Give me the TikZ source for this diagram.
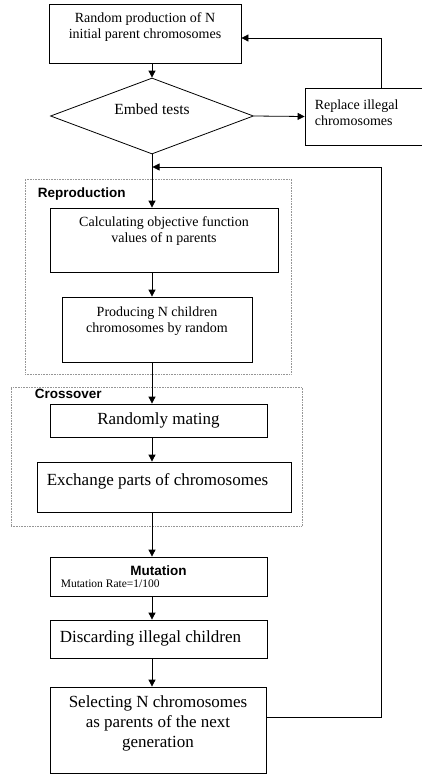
\documentclass[tikz,border=0pt]{standalone}
\usepackage{fontspec}
\setmainfont{Liberation Serif}
\newfontfamily\arialfont{Liberation Sans}
\usetikzlibrary{shapes.geometric, arrows.meta}
\definecolor{colLine}  {RGB}{  0,   0,   0}
\definecolor{colFrame} {RGB}{150, 150, 150}
\tikzset{
  stepbox/.style={
    rectangle, draw=colLine, line width=0.8pt, fill=white,
    inner sep=0pt
  },
  testnode/.style={
    diamond, aspect=2.67, draw=colLine, line width=0.8pt, fill=white,
    minimum width=203pt, minimum height=76pt, inner sep=0pt,
    font=\fontsize{15.5}{18}\selectfont, text depth=13.6pt
  },
  boxtxt/.style={
    font=\fontsize{14}{16}\selectfont, align=center,
    inner sep=0pt, anchor=north
  },
  bigtxt/.style={
    font=\fontsize{17}{20}\selectfont, align=center,
    inner sep=0pt, anchor=north
  },
  ratetxt/.style={
    font=\fontsize{11.5}{13}\selectfont,
    inner sep=0pt, anchor=north west
  },
  grouplbl/.style={
    font=\arialfont\bfseries\fontsize{13.5}{16}\selectfont,
    inner sep=0pt, anchor=north west
  },
  groupframe/.style={
    rectangle, draw=colFrame, densely dotted, line width=0.6pt,
    inner sep=0pt
  },
  flowarrow/.style={
    -{Triangle[length=7pt,width=7pt]}, line width=0.8pt, color=colLine
  },
}
\begin{document}
\begin{tikzpicture}[x=1pt, y=-1pt]
\useasboundingbox (0,0) rectangle (422,774);

%% ══════════════════════════════════════════════════════════════
%%  GROUP FRAMES  (dotted)
%% ══════════════════════════════════════════════════════════════
\node[groupframe, minimum width=266pt, minimum height=195pt,
      label={[grouplbl, xshift=13pt, yshift=-9pt]north west:Reproduction}]
  (repro) at (158,276.5) {};
\node[groupframe, minimum width=291pt, minimum height=139pt,
      label={[grouplbl, xshift=24pt, yshift=-2.5pt]north west:Crossover}]
  (cross) at (156.5,456.5) {};

%% ══════════════════════════════════════════════════════════════
%%  INITIALISATION
%% ══════════════════════════════════════════════════════════════
\node[stepbox, minimum width=192pt, minimum height=59pt,
      label={[boxtxt, yshift=-8.5pt]north:Random production of N\\initial parent chromosomes}]
  (init) at (145,33.5) {};

\node[testnode] (dia) at (152,116) {Embed tests};

\node[stepbox, minimum width=135pt, minimum height=57pt,
      label={[boxtxt, align=left, anchor=north west, xshift=10pt, yshift=-11.5pt]north west:Replace illegal\\chromosomes}]
  (repl) at (372.5,116.5) {};

%% ══════════════════════════════════════════════════════════════
%%  REPRODUCTION
%% ══════════════════════════════════════════════════════════════
\node[stepbox, minimum width=228pt, minimum height=64pt,
      label={[boxtxt, yshift=-8.5pt]north:Calculating objective function\\values of n parents}]
  (calc) at (164,240) {};

\node[stepbox, minimum width=190pt, minimum height=65pt,
      label={[boxtxt, yshift=-9.5pt]north:Producing N children\\chromosomes by random}]
  (prod) at (157,329.5) {};

%% ══════════════════════════════════════════════════════════════
%%  CROSSOVER
%% ══════════════════════════════════════════════════════════════
\node[stepbox, minimum width=217pt, minimum height=33pt,
      font=\fontsize{17}{20}\selectfont]
  (rand) at (158.5,420.5) {Randomly mating};

\node[stepbox, minimum width=254pt, minimum height=50pt,
      label={[bigtxt, xshift=-6.5pt, yshift=-12pt]north:Exchange parts of chromosomes}]
  (exch) at (164,487) {};

%% ══════════════════════════════════════════════════════════════
%%  MUTATION AND SELECTION
%% ══════════════════════════════════════════════════════════════
\node[stepbox, minimum width=217pt, minimum height=39pt,
      label={[grouplbl, anchor=north, yshift=-9pt]north:Mutation},
      label={[ratetxt, xshift=11pt, yshift=-23.5pt]north west:{Mutation Rate=1/100}}]
  (mut) at (158.5,576.5) {};

\node[stepbox, minimum width=217pt, minimum height=38pt,
      label={[bigtxt, anchor=base west, xshift=10pt, yshift=-3.5pt]west:Discarding illegal children}]
  (disc) at (158.5,639) {};

\node[stepbox, minimum width=216pt, minimum height=86pt,
      label={[bigtxt, yshift=-9pt]north:Selecting N chromosomes\\as parents of the next\\generation}]
  (sel) at (158,730) {};

%% ── bends of the return lines ─────────────────────────────────
\coordinate (ret1) at (381,38);
\coordinate (ret2) at (381,717);
\coordinate (join) at (152.5,167);

%% ══════════════════════════════════════════════════════════════
%%  ARROWS
%% ══════════════════════════════════════════════════════════════
\draw[flowarrow] (init.south -| dia.north) -- (dia.north);
\draw[flowarrow] (dia.east) -- (repl.west);
\draw[flowarrow] (repl.north -| ret1) -- (ret1) -- (init.east |- ret1);
\draw[flowarrow] (dia.south) -- (calc.north -| dia.south);
\draw[flowarrow] (calc.south -| dia.south) -- (prod.north -| dia.south);
\draw[flowarrow] (prod.south -| dia.south) -- (rand.north -| dia.south);
\draw[flowarrow] (rand.south -| dia.south) -- (exch.north -| dia.south);
\draw[flowarrow] (exch.south -| dia.south) -- (mut.north -| dia.south);
\draw[flowarrow] (mut.south -| dia.south) -- (disc.north -| dia.south);
\draw[flowarrow] (disc.south -| dia.south) -- (sel.north -| dia.south);
\draw[flowarrow] (sel.east |- ret2) -- (ret2) |- (join);

\end{tikzpicture}
\end{document}
